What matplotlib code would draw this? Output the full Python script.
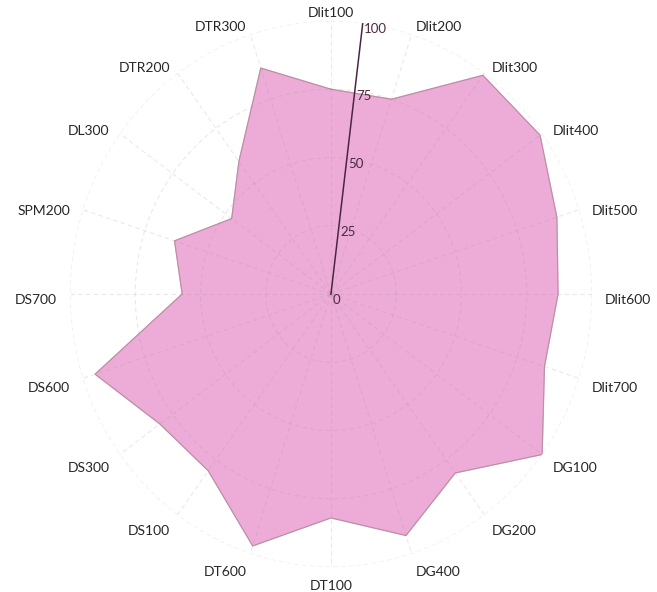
import numpy as np
import matplotlib
matplotlib.use('Agg')
from matplotlib import pyplot as plt

categories = ['Dlit100', 'Dlit200', 'Dlit300', 'Dlit400', 'Dlit500', 'Dlit600', 'Dlit700',
              'DG100', 'DG200', 'DG400', 'DT100', 'DT600', 'DS100', 'DS300', 'DS600',
              'DS700', 'SPM200', 'DL300', 'DTR200', 'DTR300']
scores = [75, 75, 99, 99, 91, 87, 86, 100, 81, 93, 82, 97, 80, 81, 95, 57, 63, 47, 60, 87]
r_ticks = [0, 25, 50, 75, 100]

plt.rcParams['font.family'] = ['Lato', 'DejaVu Sans']

angles = np.linspace(0, 2 * np.pi, len(categories), endpoint=False)
closed_angles = np.append(angles, angles[0])
closed_scores = scores + scores[:1]

fig = plt.figure(figsize=(6.57, 5.92), dpi=100)
ax = fig.add_axes([0.1065, 0.0422, 0.7945, 0.9223], projection='polar')
ax.set_aspect('auto')
ax.set_theta_zero_location('N')
ax.set_theta_direction(-1)
ax.set_ylim(0, 100)

ax.fill(closed_angles, closed_scores, color='#ecacd7', zorder=1)
ax.plot(closed_angles, closed_scores, color='#b8909f', lw=0.8, zorder=2)

# grid drawn over the fill, very faint
ax.set_axisbelow(False)
ax.set_xticks(angles)
ax.set_xticklabels([])
ax.set_yticks(r_ticks[1:])
ax.set_yticklabels([])
ax.grid(True, color='#a88a9a', alpha=0.2, lw=0.8, linestyle=(0, (4, 3)))
ax.spines['polar'].set_visible(False)
ax.tick_params(length=0)

# category labels
for a, name in zip(angles, categories):
    s = np.sin(a)
    if s > 0.1:
        ha = 'left'
    elif s < -0.1:
        ha = 'right'
    else:
        ha = 'center'
    ax.annotate(name, xy=(a, 105), xytext=(0, -4), textcoords='offset points',
                ha=ha, va='center', fontsize=10, color='#262626', annotation_clip=False)

# tilted value axis
axis_theta = np.deg2rad(7)
ax.plot([axis_theta, axis_theta], [0, 100], color='#4a2640', lw=1.1, zorder=3)
for v in r_ticks:
    ax.annotate(str(v), xy=(axis_theta, v), xytext=(1, -4), textcoords='offset points',
                ha='left', va='center', fontsize=9.5, color='#4a2b40', zorder=4)

plt.savefig('out.png', dpi=100)
